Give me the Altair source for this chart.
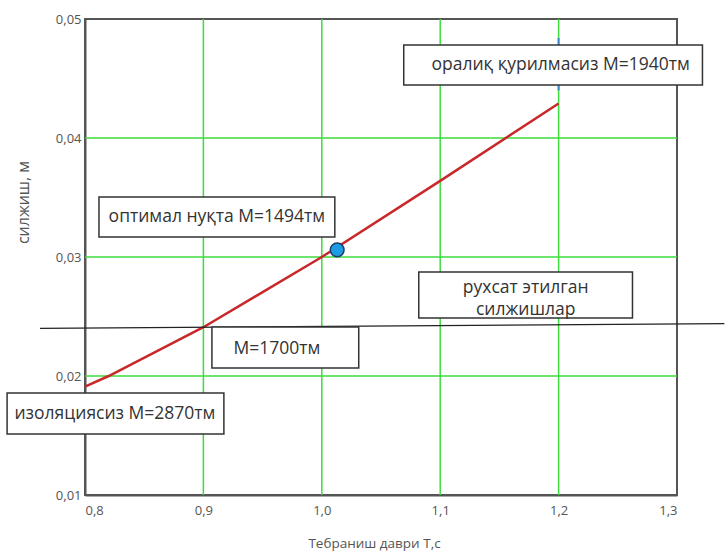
import altair as alt
import pandas as pd

# Displacement vs. vibration period curve
period = [0.8, 0.82, 0.9, 1.0, 1.1, 1.2]
displacement = [0.0191, 0.0200, 0.0241, 0.0300, 0.0364, 0.0429]

# Optimal point
opt_T = [1.013]
opt_s = [0.0306]

# Allowed displacement limit line
limit_T = [0.762, 1.34]
limit_s = [0.0240, 0.0244]

# Annotation boxes (x1, x2, y1, y2) and their texts
box_x1 = [1.0692, 0.8118, 1.0819, 0.9072, 0.7342]
box_x2 = [1.3215, 1.0110, 1.2624, 1.0312, 0.9173]
box_y1 = [0.04782, 0.03504, 0.02874, 0.02412, 0.01857]
box_y2 = [0.04445, 0.03168, 0.02487, 0.02067, 0.01513]

label_text = ["оралиқ қурилмасиз М=1940тм", "оптимал нуқта М=1494тм",
              "рухсат этилган", "силжишлар", "М=1700тм", "изоляциясиз М=2870тм"]
label_T = [1.2017, 0.9114, 1.1722, 1.1722, 0.9620, 0.8253]
label_s = [0.04613, 0.03336, 0.02739, 0.02555, 0.02227, 0.01681]

x_ticks = [0.8, 0.9, 1.0, 1.1, 1.2, 1.3]
y_ticks = [0.01, 0.02, 0.03, 0.04, 0.05]
x_grid = [0.9, 1.0, 1.1, 1.2]
y_grid = [0.02, 0.03, 0.04]

xs = alt.Scale(domain=[0.8, 1.3], nice=False, zero=False)
ys = alt.Scale(domain=[0.01, 0.05], nice=False, zero=False)

grid_green = "#3ddc3d"
font = "Open Sans"

curve_df = pd.DataFrame({"T": period, "s": displacement})
opt_df = pd.DataFrame({"T": opt_T, "s": opt_s})
limit_df = pd.DataFrame({"T": limit_T, "s": limit_s})
box_df = pd.DataFrame({"x1": box_x1, "x2": box_x2, "y1": box_y1, "y2": box_y2})
text_df = pd.DataFrame({"T": label_T, "s": label_s, "t": label_text})

base_x = alt.X("T:Q", scale=xs, title="Тебраниш даври Т,с",
               axis=alt.Axis(values=x_ticks, labelExpr="replace(format(datum.value, '.1f'), '.', ',')",
                             grid=False, domainColor="#555", domainWidth=2, ticks=False,
                             labelColor="#555", labelFont=font, labelFontSize=13,
                             labelPadding=9, titleFont=font, titleFontSize=13.5,
                             titleFontWeight="normal", titleColor="#555", titlePadding=19,
                             titleX=289))
base_y = alt.Y("s:Q", scale=ys, title="силжиш, м",
               axis=alt.Axis(values=y_ticks, labelExpr="replace(format(datum.value, '.2f'), '.', ',')",
                             grid=False, domainColor="#555", domainWidth=2, ticks=False,
                             labelColor="#555", labelFont=font, labelFontSize=13,
                             labelPadding=4, titleFont=font, titleFontSize=16,
                             titleFontWeight="normal", titleColor="#555",
                             titleY=183, titleX=-54))

grid_v = alt.Chart(pd.DataFrame({"T": x_grid})).mark_rule(color=grid_green, strokeWidth=1.5).encode(
    x=alt.X("T:Q", scale=xs))
grid_h = alt.Chart(pd.DataFrame({"s": y_grid})).mark_rule(color=grid_green, strokeWidth=1.5).encode(
    y=alt.Y("s:Q", scale=ys))

curve = alt.Chart(curve_df).mark_line(color="#c8282a", strokeWidth=2.5).encode(x=base_x, y=base_y)

limit = alt.Chart(limit_df).mark_line(color="#222", strokeWidth=1.3, clip=False).encode(
    x=alt.X("T:Q", scale=xs), y=alt.Y("s:Q", scale=ys))

blue_tick = alt.Chart(pd.DataFrame({"T": [1.2], "a": [0.0484], "b": [0.0440]})).mark_rule(
    color="#3a86c8", strokeWidth=2).encode(
    x=alt.X("T:Q", scale=xs), y=alt.Y("a:Q", scale=ys), y2="b:Q")

boxes = alt.Chart(box_df).mark_rect(fill="white", stroke="#333", strokeWidth=1.5, clip=False).encode(
    x=alt.X("x1:Q", scale=xs), x2="x2:Q", y=alt.Y("y1:Q", scale=ys), y2="y2:Q")

texts = alt.Chart(text_df).mark_text(font=font, fontSize=17.5, color="#333",
                                     align="center", baseline="middle", clip=False).encode(
    x=alt.X("T:Q", scale=xs), y=alt.Y("s:Q", scale=ys), text="t:N")

point = alt.Chart(opt_df).mark_point(filled=True, size=190, fill="#1e9be2", stroke="#1b3f66",
                                     strokeWidth=1.5, opacity=1, shape="circle").encode(
    x=alt.X("T:Q", scale=xs), y=alt.Y("s:Q", scale=ys))

chart = alt.layer(grid_v, grid_h, curve, limit, blue_tick, boxes, texts, point).properties(
    width=592, height=476,
    autosize=alt.AutoSizeParams(type="none"),
    padding={"left": 85, "top": 19, "right": 48, "bottom": 59},
    background="white",
).configure_view(stroke="#555", strokeWidth=2)

chart.save("out.html", embed_options={"renderer": "svg", "actions": False})
